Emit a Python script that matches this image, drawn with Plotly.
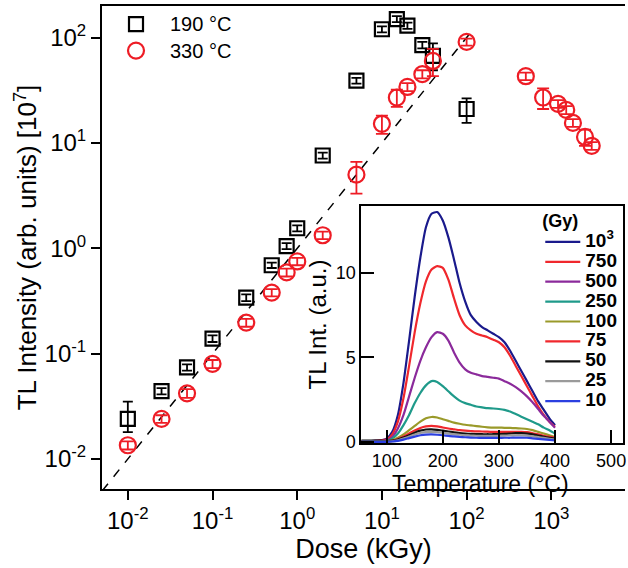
import plotly.graph_objects as go

# ---------------- main panel data ----------------
dose_190 = [0.01, 0.025, 0.05, 0.1, 0.25, 0.5, 0.75, 1, 2, 5, 10, 15, 20, 30, 40, 100]
tl_190 = [0.024, 0.044, 0.074, 0.139, 0.34, 0.69, 1.05, 1.55, 7.6, 39, 120, 150, 130, 85, 67, 21]
err_190_plus = [0.011, 0.003, 0.005, 0.01, 0.025, 0.04, 0.07, 0.1, 0.5, 2.5, 8, 10, 9, 6, 21, 5.5]
err_190_minus = [0.006, 0.003, 0.005, 0.01, 0.025, 0.04, 0.07, 0.1, 0.5, 2.5, 8, 10, 9, 6, 18, 5.5]

dose_330 = [0.01, 0.025, 0.05, 0.1, 0.25, 0.5, 0.75, 1, 2, 5, 10, 15, 20, 30, 40, 100,
            500, 800, 1200, 1500, 1800, 2500, 3000]
tl_330 = [0.0135, 0.024, 0.042, 0.080, 0.197, 0.38, 0.59, 0.75, 1.33, 5.0, 15.2, 27, 34, 45, 60, 91,
          43, 27, 23.5, 20.6, 15.5, 11.4, 9.4]
err_330_plus = [0.0012, 0.002, 0.004, 0.007, 0.017, 0.03, 0.05, 0.06, 0.11, 1.6, 3.0, 5.0, 3, 4, 18, 7,
                3.5, 6, 2, 1.8, 1.3, 2.0, 0.8]
err_330_minus = [0.0012, 0.002, 0.004, 0.007, 0.017, 0.03, 0.05, 0.06, 0.11, 1.7, 3.0, 5.0, 3, 4, 17, 7,
                 3.5, 6, 2, 1.8, 1.3, 2.0, 0.8]

guide_dose = [0.005, 115]
guide_tl = [0.005, 115]

dose_ticks = [0.01, 0.1, 1, 10, 100, 1000]
dose_ticktext = ["10<sup>-2</sup>", "10<sup>-1</sup>", "10<sup>0</sup>", "10<sup>1</sup>",
                 "10<sup>2</sup>", "10<sup>3</sup>"]
tl_ticks = [0.01, 0.1, 1, 10, 100]
tl_ticktext = ["10<sup>-2</sup>", "10<sup>-1</sup>", "10<sup>0</sup>", "10<sup>1</sup>", "10<sup>2</sup>"]

# ---------------- inset data (glow curves) ----------------
temperature = [50, 60, 70, 80, 90, 100, 110, 120, 130, 140, 150, 160, 170, 180, 190, 200, 210, 220,
               230, 240, 250, 260, 270, 280, 290, 300, 310, 320, 330, 340, 350, 360, 370, 380, 390, 400]
glow_1000 = [0.05, 0.05, 0.05, 0.08, 0.1, 0.2, 0.6, 1.6, 3.5, 6.0, 8.6, 10.9, 12.7, 13.5, 13.6, 13.1,
             12.1, 10.8, 9.4, 8.3, 7.5, 7.1, 6.8, 6.6, 6.4, 6.2, 5.9, 5.4, 4.8, 4.2, 3.6, 3.0, 2.4,
             1.9, 1.4, 1.0]
glow_750 = [0.05, 0.05, 0.05, 0.07, 0.1, 0.15, 0.45, 1.2, 2.6, 4.5, 6.5, 8.2, 9.5, 10.2, 10.4, 10.3,
            9.6, 8.5, 7.5, 6.9, 6.6, 6.4, 6.3, 6.2, 6.05, 5.9, 5.6, 5.1, 4.5, 3.9, 3.3, 2.7, 2.1,
            1.6, 1.2, 0.9]
glow_500 = [0.04, 0.04, 0.04, 0.05, 0.07, 0.1, 0.3, 0.8, 1.6, 2.7, 3.8, 4.8, 5.6, 6.2, 6.5, 6.4,
            6.0, 5.3, 4.7, 4.3, 4.1, 4.0, 3.9, 3.85, 3.8, 3.75, 3.6, 3.45, 3.25, 3.0, 2.7, 2.35,
            1.95, 1.55, 1.2, 0.85]
glow_250 = [0.03, 0.03, 0.03, 0.04, 0.04, 0.05, 0.2, 0.5, 1.0, 1.6, 2.3, 2.9, 3.35, 3.6, 3.55, 3.3,
            3.0, 2.7, 2.45, 2.3, 2.2, 2.1, 2.05, 2.0, 1.98, 1.95, 1.9, 1.8, 1.65, 1.5, 1.35, 1.2,
            1.05, 0.85, 0.7, 0.5]
glow_100 = [0.03, 0.03, 0.03, 0.03, 0.03, 0.03, 0.1, 0.25, 0.45, 0.7, 0.95, 1.2, 1.4, 1.48, 1.45,
            1.35, 1.25, 1.15, 1.08, 1.02, 0.98, 0.94, 0.9, 0.87, 0.85, 0.85, 0.84, 0.83, 0.82, 0.8,
            0.77, 0.7, 0.6, 0.5, 0.4, 0.3]
glow_75 = [0.02, 0.02, 0.02, 0.02, 0.02, 0.02, 0.07, 0.17, 0.32, 0.5, 0.68, 0.83, 0.92, 0.95, 0.92,
           0.86, 0.8, 0.75, 0.7, 0.67, 0.65, 0.63, 0.62, 0.61, 0.6, 0.6, 0.6, 0.6, 0.6, 0.6, 0.58,
           0.52, 0.45, 0.37, 0.3, 0.25]
glow_50 = [0.08, 0.08, 0.08, 0.08, 0.08, 0.06, 0.08, 0.15, 0.26, 0.4, 0.55, 0.67, 0.74, 0.75, 0.72,
           0.67, 0.62, 0.57, 0.53, 0.5, 0.48, 0.47, 0.46, 0.46, 0.46, 0.47, 0.48, 0.5, 0.52, 0.52,
           0.5, 0.45, 0.38, 0.31, 0.25, 0.2]
glow_25 = [0.02, 0.02, 0.02, 0.02, 0.02, 0.02, 0.04, 0.1, 0.2, 0.32, 0.44, 0.54, 0.59, 0.6, 0.58,
           0.54, 0.5, 0.46, 0.43, 0.4, 0.38, 0.37, 0.36, 0.36, 0.36, 0.37, 0.38, 0.39, 0.4, 0.4,
           0.38, 0.34, 0.29, 0.24, 0.19, 0.15]
glow_10 = [0.01, 0.01, 0.01, 0.01, 0.01, 0.01, 0.03, 0.07, 0.14, 0.23, 0.32, 0.4, 0.44, 0.45, 0.43,
           0.4, 0.36, 0.33, 0.3, 0.28, 0.26, 0.25, 0.24, 0.24, 0.24, 0.24, 0.25, 0.25, 0.26, 0.26,
           0.25, 0.22, 0.19, 0.16, 0.13, 0.1]

glow_names = ["10<sup>3</sup>", "750", "500", "250", "100", "75", "50", "25", "10"]
glow_series = [glow_1000, glow_750, glow_500, glow_250, glow_100, glow_75, glow_50, glow_25, glow_10]
glow_colors = ["#1a1a8c", "#f0282d", "#8b2a9b", "#1f9a8a", "#9a9a2a", "#f0282d", "#111111",
               "#9a9a9a", "#2b3fe0"]

FONT = "Liberation Sans, Arial, sans-serif"

fig = go.Figure()

# guide line y = x
fig.add_trace(go.Scatter(x=guide_dose, y=guide_tl, mode="lines",
                         line=dict(color="black", width=1.5, dash="dash"),
                         showlegend=False, xaxis="x", yaxis="y"))

fig.add_trace(go.Scatter(
    x=dose_190, y=tl_190, mode="markers",
    name="<span style='font-size:20px'>190 °C</span>",
    marker=dict(symbol="square-open", size=14, color="black", line=dict(width=2.2, color="black")),
    error_y=dict(type="data", array=err_190_plus, arrayminus=err_190_minus, symmetric=False,
                 color="black", thickness=1.8, width=5),
    xaxis="x", yaxis="y", legend="legend"))

fig.add_trace(go.Scatter(
    x=dose_330, y=tl_330, mode="markers",
    name="<span style='font-size:20px'>330 °C</span>",
    marker=dict(symbol="circle-open", size=16, color="#ee1c25", line=dict(width=2.2, color="#ee1c25")),
    error_y=dict(type="data", array=err_330_plus, arrayminus=err_330_minus, symmetric=False,
                 color="#ee1c25", thickness=1.8, width=6),
    xaxis="x", yaxis="y", legend="legend"))

for name, vals, col in zip(glow_names, glow_series, glow_colors):
    fig.add_trace(go.Scatter(x=temperature, y=vals, mode="lines",
                             name="<span style='font-size:19px'>" + name + "</span>",
                             line=dict(color=col, width=2.2, shape="spline", smoothing=0.6),
                             xaxis="x2", yaxis="y2", legend="legend2"))

axis_common = dict(showline=True, linecolor="black", linewidth=2, showgrid=False, zeroline=False,
                   tickcolor="black", tickwidth=2)

fig.update_layout(
    width=628, height=568,
    margin=dict(l=102, r=0, t=6, b=79),
    paper_bgcolor="white", plot_bgcolor="white",
    font=dict(family=FONT, color="black"),
    xaxis=dict(type="log", range=[-2.305, 3.87], domain=[0, 1], anchor="y",
               tickvals=dose_ticks, ticktext=dose_ticktext, ticks="outside", ticklen=9,
               tickfont=dict(size=24), mirror=True,
               title=dict(text="Dose (kGy)", font=dict(size=27), standoff=2),
               **axis_common),
    yaxis=dict(type="log", range=[-2.285, 2.30], domain=[0, 1], anchor="x",
               tickvals=tl_ticks, ticktext=tl_ticktext, ticks="outside", ticklen=9,
               tickfont=dict(size=24),
               title=dict(text="TL Intensity (arb. units) [10<sup>7</sup>]", font=dict(size=26),
                          standoff=0),
               **axis_common),
    xaxis2=dict(range=[55, 521], domain=[0.496, 0.996], anchor="y2",
                tickvals=[100, 200, 300, 400, 500], ticks="inside", ticklen=13,
                tickfont=dict(size=18), mirror=True, ticklabeloverflow="allow",
                **axis_common),
    yaxis2=dict(range=[-0.06, 13.96], domain=[0.0952, 0.586], anchor="x2",
                tickvals=[0, 5, 10], ticks="inside", ticklen=13,
                tickfont=dict(size=18), mirror=True,
                title=dict(text="TL Int. (a.u.)", font=dict(size=24), standoff=2),
                **axis_common),
    annotations=[dict(text="Temperature (°C)", xref="paper", yref="paper", x=0.724, y=0.0104,
                      xanchor="center", yanchor="middle", showarrow=False,
                      font=dict(size=23, family=FONT, color="black"))],
    legend=dict(x=0.0, y=1.0, xanchor="left", yanchor="top", bgcolor="rgba(0,0,0,0)",
                font=dict(size=18), itemwidth=58, tracegroupgap=0),
    legend2=dict(x=0.838, y=0.591, xanchor="left", yanchor="top", bgcolor="rgba(0,0,0,0)",
                 font=dict(size=13, weight="bold"), itemwidth=35, tracegroupgap=0,
                 title=dict(text="<b>(Gy)</b>", font=dict(size=18))),
    showlegend=True,
)

fig.write_html("out.html", config={"displayModeBar": False},
               post_script="document.body.style.margin='0';document.body.style.overflow='hidden';")
